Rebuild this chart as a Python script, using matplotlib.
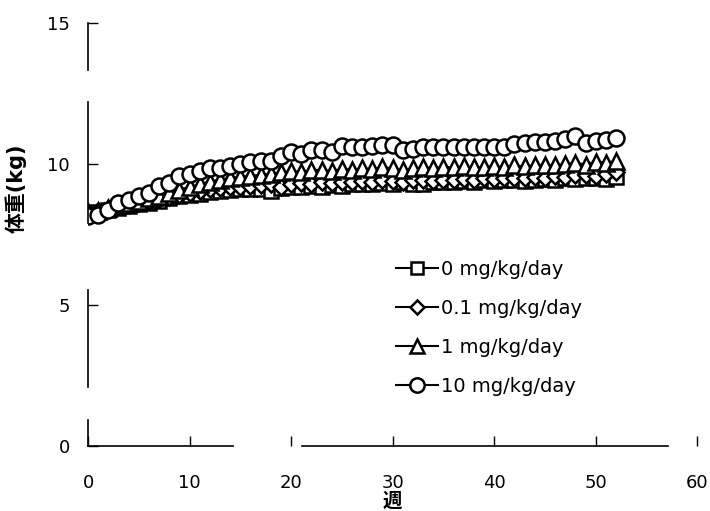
import numpy as np
import matplotlib.pyplot as plt

plt.rcParams['font.family'] = ['DejaVu Sans', 'Noto Sans CJK JP']

# 体重推移（週ごと）
weeks = list(range(0, 53))

dose_0 = [8.25, 8.30, 8.38, 8.45, 8.52, 8.58, 8.62, 8.70, 8.78, 8.85,
          8.90, 8.95, 9.02, 9.05, 9.08, 9.10, 9.12, 9.10, 9.05, 9.15,
          9.18, 9.20, 9.22, 9.20, 9.25, 9.22, 9.28, 9.30, 9.28, 9.32,
          9.30, 9.35, 9.30, 9.28, 9.35, 9.38, 9.35, 9.40, 9.38, 9.42,
          9.40, 9.42, 9.45, 9.40, 9.45, 9.48, 9.45, 9.50, 9.48, 9.52,
          9.50, 9.48, 9.55]

dose_01 = [8.30, 8.35, 8.42, 8.50, 8.55, 8.62, 8.68, 8.75, 8.82, 8.90,
           8.98, 9.05, 9.10, 9.15, 9.18, 9.20, 9.22, 9.25, 9.28, 9.20,
           9.30, 9.32, 9.30, 9.35, 9.32, 9.38, 9.36, 9.40, 9.38, 9.42,
           9.40, 9.38, 9.42, 9.45, 9.40, 9.45, 9.42, 9.48, 9.45, 9.50,
           9.48, 9.50, 9.52, 9.50, 9.55, 9.52, 9.58, 9.55, 9.60, 9.62,
           9.58, 9.65, 9.70]

dose_1 = [8.28, 8.35, 8.45, 8.55, 8.62, 8.70, 8.78, 8.88, 8.98, 9.08,
          9.18, 9.28, 9.38, 9.45, 9.50, 9.55, 9.58, 9.62, 9.65, 9.70,
          9.75, 9.72, 9.78, 9.80, 9.75, 9.82, 9.80, 9.85, 9.82, 9.88,
          9.85, 9.78, 9.85, 9.88, 9.85, 9.90, 9.88, 9.92, 9.88, 9.90,
          9.92, 9.88, 9.95, 9.92, 9.95, 9.98, 9.95, 10.00, 10.05, 9.98,
          10.08, 10.05, 10.10]

dose_10 = [8.15, 8.20, 8.38, 8.62, 8.74, 8.86, 8.98, 9.21, 9.33, 9.57,
           9.63, 9.75, 9.87, 9.87, 9.93, 10.00, 10.06, 10.12, 10.12, 10.30,
           10.42, 10.36, 10.48, 10.48, 10.42, 10.65, 10.60, 10.62, 10.65, 10.68,
           10.66, 10.50, 10.55, 10.60, 10.60, 10.62, 10.62, 10.60, 10.62, 10.60,
           10.62, 10.62, 10.70, 10.75, 10.78, 10.78, 10.80, 10.88, 10.98, 10.75,
           10.80, 10.85, 10.92]

labels = ['0 mg/kg/day', '0.1 mg/kg/day', '1 mg/kg/day', '10 mg/kg/day']
xticks = [0, 10, 20, 30, 40, 50, 60]
yticks = [0, 5, 10, 15]

fig = plt.figure(figsize=(7.1, 5.11), dpi=100)
ax = fig.add_axes([0.124, 0.127, 0.858, 0.828])

series = [dose_0, dose_01, dose_1, dose_10]
markers = ['s', 'D', '^', 'o']
sizes = [9.5, 8, 11, 11.5]
for vals, m, ms, lab in zip(series, markers, sizes, labels):
    ax.plot(weeks, vals, color='black', lw=1.5, marker=m, ms=ms,
            mfc='white', mec='black', mew=1.8, label=lab)

ax.set_xlim(0, 60)
ax.set_ylim(0, 15)
ax.set_xticks(xticks)
ax.set_yticks(yticks)
ax.tick_params(direction='in', length=7, width=1, labelsize=13)
ax.tick_params(axis='x', pad=20)
ax.tick_params(axis='y', pad=13)

# 軸線（かすれた線を区間ごとに描く）
for s in ax.spines.values():
    s.set_visible(False)
left_segs = [(15, 13.33), (12.2, 7.9), (5.53, 2.09), (0.92, 0)]
for y0, y1 in left_segs:
    ax.plot([0, 0], [y0, y1], color='black', lw=1.2, clip_on=False)
bottom_segs = [(0, 14.3), (21.1, 57.1)]
for x0, x1 in bottom_segs:
    ax.plot([x0, x1], [0, 0], color='black', lw=1.2, clip_on=False)

ax.set_xlabel('週', fontsize=14, fontweight='bold')
ax.xaxis.set_label_coords(0.5, -0.108)
ax.set_ylabel('体重(kg)', fontsize=15, fontweight='bold')
ax.yaxis.set_label_coords(-0.1, 0.61)

ax.legend(loc='upper left', bbox_to_anchor=(0.505, 0.441), frameon=False,
          fontsize=14, handlelength=2.2, handletextpad=0.15,
          borderaxespad=0, borderpad=0,
          labelspacing=1.03, numpoints=1, markerscale=0.9)

fig.savefig('out.png', dpi=100)
